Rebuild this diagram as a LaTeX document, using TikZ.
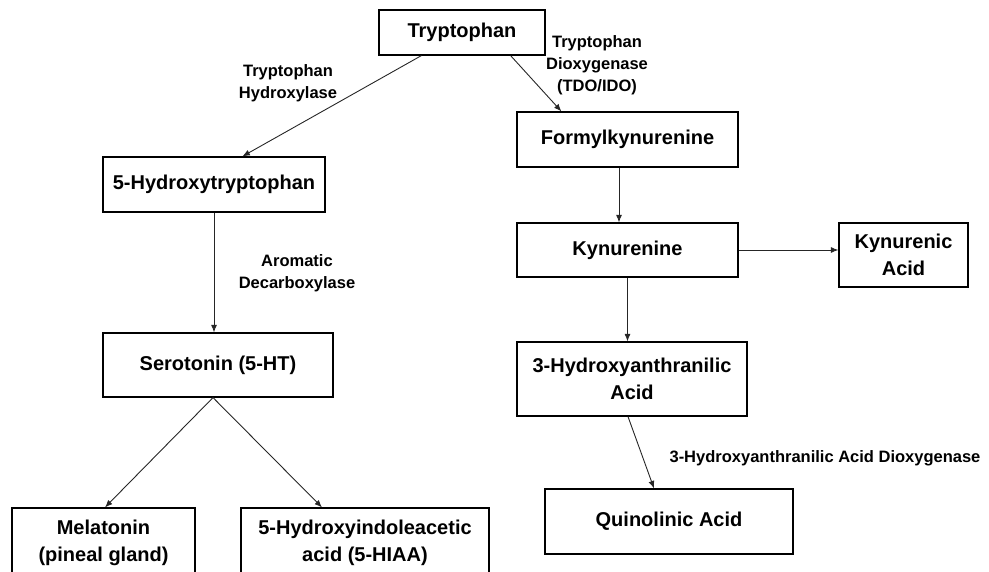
\documentclass[tikz,border=0pt]{standalone}
\usepackage{fontspec}
\setmainfont{Liberation Sans}
\usetikzlibrary{arrows.meta}

\begin{document}
\begin{tikzpicture}[x=1pt, y=-1pt,
    box/.style={draw, line width=1.2pt, inner sep=0pt, align=center,
                font=\bfseries\fontsize{20}{27}\selectfont},
    enzyme/.style={inner sep=0pt, align=center,
                   font=\bfseries\fontsize{16.5}{22}\selectfont},
    arr/.style={-{Latex[length=7.5pt, width=6pt]}, line width=0.9pt, black!85}]
    \clip (0,0) rectangle (989,572);

    \node[box, minimum width=166pt, minimum height=45pt] (trp) at (462,32.5) {Tryptophan};

    \node[box, minimum width=222pt, minimum height=55pt] (htp) at (214,184.5) {5-Hydroxytryptophan};
    \node[box, minimum width=230pt, minimum height=64pt] (ser) at (218,365) {Serotonin (5-HT)};
    \node[box, minimum width=183pt, minimum height=70pt] (mel) at (103.5,543) {Melatonin\\(pineal gland)};
    \node[box, minimum width=248pt, minimum height=70pt] (hiaa) at (365,543) {5-Hydroxyindoleacetic\\acid (5-HIAA)};

    \node[box, minimum width=221pt, minimum height=55pt] (fk) at (627.5,139.5) {Formylkynurenine};
    \node[box, minimum width=221pt, minimum height=54pt] (kyn) at (627.5,250) {Kynurenine};
    \node[box, minimum width=129pt, minimum height=64pt] (ka) at (903.5,255) {Kynurenic\\Acid};
    \node[box, minimum width=230pt, minimum height=74pt] (haa) at (632,379) {3-Hydroxyanthranilic\\Acid};
    \node[box, minimum width=248pt, minimum height=65pt] (quin) at (669,521.5) {Quinolinic Acid};

    \node[enzyme] (tph) at (288,83) {Tryptophan\\Hydroxylase};
    \node[enzyme] (tdo) at (597,65) {Tryptophan\\Dioxygenase\\(TDO/IDO)};
    \node[enzyme] (aadc) at (297,273) {Aromatic\\Decarboxylase};
    \node[enzyme] (haao) at (825,458) {3-Hydroxyanthranilic Acid Dioxygenase};

    \draw[arr] ([xshift=43pt]trp.south west) -- ([xshift=140pt]htp.north west);
    \draw[arr] ([xshift=-35pt]trp.south east) -- ([xshift=45pt]fk.north west);
    \draw[arr] (htp.south) -- (htp.south |- ser.north);
    \draw[arr] ([xshift=-5pt]ser.south) -- ([xshift=1.5pt]mel.north);
    \draw[arr] ([xshift=-5pt]ser.south) -- ([xshift=-43pt]hiaa.north);
    \draw[arr] ([xshift=-8.5pt]fk.south) -- ([xshift=-8.5pt]kyn.north);
    \draw[arr] (kyn.east) -- (kyn.east -| ka.west);
    \draw[arr] (kyn.south) -- (kyn.south |- haa.north);
    \draw[arr] ([xshift=-4pt]haa.south) -- ([xshift=-15pt]quin.north);
\end{tikzpicture}
\end{document}
